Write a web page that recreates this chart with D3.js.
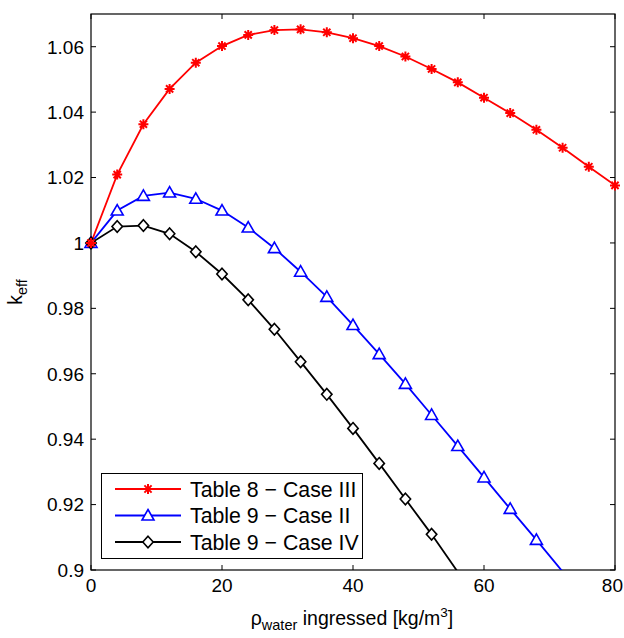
<!DOCTYPE html>
<html>
<head>
<meta charset="utf-8">
<script src="https://d3js.org/d3.v7.min.js"></script>
<style>
    body { margin: 0; background: white; }
    svg { display: block; font-family: "Liberation Sans", Arial, sans-serif; }
</style>
</head>
<body>
<svg class="svgMain" width="624" height="638"></svg>
<script>
// k_eff vs water ingress, three cases.

PLOT_L = 91;
PLOT_R = 615;
PLOT_T = 14;
PLOT_B = 570;
TICK_LEN = 5;

var waterDensity = [0, 4, 8, 12, 16, 20, 24, 28, 32, 36, 40, 44, 48, 52, 56, 60, 64, 68, 72, 76, 80];

var caseIII_t8 = [1.0000, 1.0209, 1.0363, 1.0471, 1.0551, 1.0602, 1.0636, 1.0651, 1.0653, 1.0644, 1.0626,
                  1.0602, 1.0570, 1.0532, 1.0491, 1.0444, 1.0397, 1.0346, 1.0291, 1.0233, 1.0176];
var caseII_t9 = [1.0000, 1.0099, 1.0144, 1.0154, 1.0135, 1.0099, 1.0047, 0.9984, 0.9912, 0.9835, 0.9749,
                 0.9660, 0.9569, 0.9474, 0.9379, 0.9283, 0.9187, 0.9092, 0.8995];
var caseIV_t9 = [1.0000, 1.0050, 1.0053, 1.0028, 0.9973, 0.9905, 0.9826, 0.9736, 0.9637, 0.9537, 0.9433,
                 0.9326, 0.9217, 0.9109, 0.8994];

var seriesNames = ["Table 8 \u2212 Case III", "Table 9 \u2212 Case II", "Table 9 \u2212 Case IV"];
var seriesColors = ["#ff0000", "#0000ff", "#000000"];
var seriesMarkers = ["asterisk", "triangle", "diamond"];

var xTicks = [0, 20, 40, 60, 80];
var xTickLabels = ["0", "20", "40", "60", "80"];
var yTicks = [0.90, 0.92, 0.94, 0.96, 0.98, 1.00, 1.02, 1.04, 1.06];
var yTickLabels = ["0.9", "0.92", "0.94", "0.96", "0.98", "1", "1.02", "1.04", "1.06"];

var svgMain = d3.select(".svgMain");
var x = d3.scaleLinear().domain([0, 80]).range([PLOT_L, PLOT_R]);
var y = d3.scaleLinear().domain([0.9, 1.07]).range([PLOT_B, PLOT_T]);

// Helper Functions
function drawMarker (g, type, color) {
    if (type == "asterisk") {
        let r = 5, d = r * 0.72;
        g.append("path")
            .attr("d", "M" + (-r) + ",0H" + r + "M0," + (-r) + "V" + r +
                       "M" + (-d) + "," + (-d) + "L" + d + "," + d +
                       "M" + (-d) + "," + d + "L" + d + "," + (-d))
            .attr("stroke", color).attr("stroke-width", 2).attr("fill", "none");
    }
    else if (type == "triangle") {
        g.append("path")
            .attr("d", "M0,-6L6,4.5L-6,4.5Z")
            .attr("stroke", color).attr("stroke-width", 1.6).attr("fill", "white");
    }
    else if (type == "diamond") {
        g.append("path")
            .attr("d", "M0,-5.8L5.2,0L0,5.8L-5.2,0Z")
            .attr("stroke", color).attr("stroke-width", 1.6).attr("fill", "white");
    }
}

// Main Functions
function drawAxes () {
    svgMain.append("rect")
        .attr("x", PLOT_L).attr("y", PLOT_T)
        .attr("width", PLOT_R - PLOT_L).attr("height", PLOT_B - PLOT_T)
        .attr("fill", "white").attr("stroke", "black").attr("stroke-width", 1.2);

    let ticks = svgMain.append("g").attr("stroke", "black").attr("stroke-width", 1);
    xTicks.forEach(function (t, i) {
        ticks.append("line").attr("x1", x(t)).attr("x2", x(t)).attr("y1", PLOT_B).attr("y2", PLOT_B - TICK_LEN);
        ticks.append("line").attr("x1", x(t)).attr("x2", x(t)).attr("y1", PLOT_T).attr("y2", PLOT_T + TICK_LEN);
        // last label would run off the page, so pin it to the right edge
        let last = (i == xTicks.length - 1);
        svgMain.append("text")
            .attr("x", last ? 623 : x(t)).attr("y", 592)
            .attr("text-anchor", last ? "end" : "middle").attr("font-size", 19)
            .text(xTickLabels[i]);
    });
    yTicks.forEach(function (t, i) {
        ticks.append("line").attr("x1", PLOT_L).attr("x2", PLOT_L + TICK_LEN).attr("y1", y(t)).attr("y2", y(t));
        ticks.append("line").attr("x1", PLOT_R).attr("x2", PLOT_R - TICK_LEN).attr("y1", y(t)).attr("y2", y(t));
        svgMain.append("text")
            .attr("x", PLOT_L - 7).attr("y", y(t) + 6.8)
            .attr("text-anchor", "end").attr("font-size", 19)
            .text(yTickLabels[i]);
    });

    // Axis titles
    let xl = svgMain.append("text")
        .attr("x", 352).attr("y", 625)
        .attr("text-anchor", "middle").attr("font-size", 19.5);
    xl.append("tspan").text("\u03c1");
    xl.append("tspan").attr("font-size", 14.5).attr("dy", 5).text("water");
    xl.append("tspan").attr("dy", -5).text(" ingressed [kg/m");
    xl.append("tspan").attr("font-size", 13.5).attr("dy", -8).text("3");
    xl.append("tspan").attr("dy", 8).text("]");

    let yl = svgMain.append("text")
        .attr("transform", "translate(22," + ((PLOT_T + PLOT_B) / 2) + ") rotate(-90)")
        .attr("text-anchor", "middle").attr("font-size", 19.5);
    yl.append("tspan").text("k");
    yl.append("tspan").attr("font-size", 14.5).attr("dy", 5).text("eff");
}

function drawSeries () {
    svgMain.append("clipPath").attr("id", "plotClip")
        .append("rect")
        .attr("x", PLOT_L).attr("y", PLOT_T)
        .attr("width", PLOT_R - PLOT_L).attr("height", PLOT_B - PLOT_T);

    let allSeries = [caseIII_t8, caseII_t9, caseIV_t9];
    let line = d3.line()
        .x(function (d, i) { return x(waterDensity[i]); })
        .y(function (d) { return y(d); });

    allSeries.forEach(function (vals, s) {
        svgMain.append("path")
            .attr("d", line(vals))
            .attr("clip-path", "url(#plotClip)")
            .attr("fill", "none").attr("stroke", seriesColors[s]).attr("stroke-width", 1.8);
    });
    // markers: blue, black, then red on top
    [1, 2, 0].forEach(function (s) {
        allSeries[s].forEach(function (v, i) {
            if (v < 0.9) return;
            let g = svgMain.append("g")
                .attr("transform", "translate(" + x(waterDensity[i]) + "," + y(v) + ")");
            drawMarker(g, seriesMarkers[s], seriesColors[s]);
        });
    });
}

function drawLegend () {
    let lg = svgMain.append("g");
    lg.append("rect")
        .attr("x", 101.5).attr("y", 473.5).attr("width", 261).attr("height", 85)
        .attr("fill", "white").attr("stroke", "black").attr("stroke-width", 1);
    for (let i = 0; i < seriesNames.length; i++) {
        let ry = 489 + 26.5 * i;
        lg.append("line")
            .attr("x1", 115).attr("x2", 181).attr("y1", ry).attr("y2", ry)
            .attr("stroke", seriesColors[i]).attr("stroke-width", 1.8);
        let g = lg.append("g").attr("transform", "translate(148," + ry + ")");
        drawMarker(g, seriesMarkers[i], seriesColors[i]);
        lg.append("text")
            .attr("x", 190).attr("y", ry + 7.5)
            .attr("font-size", 21.3)
            .text(seriesNames[i]);
    }
}

drawAxes();
drawSeries();
drawLegend();
</script>
</body>
</html>
